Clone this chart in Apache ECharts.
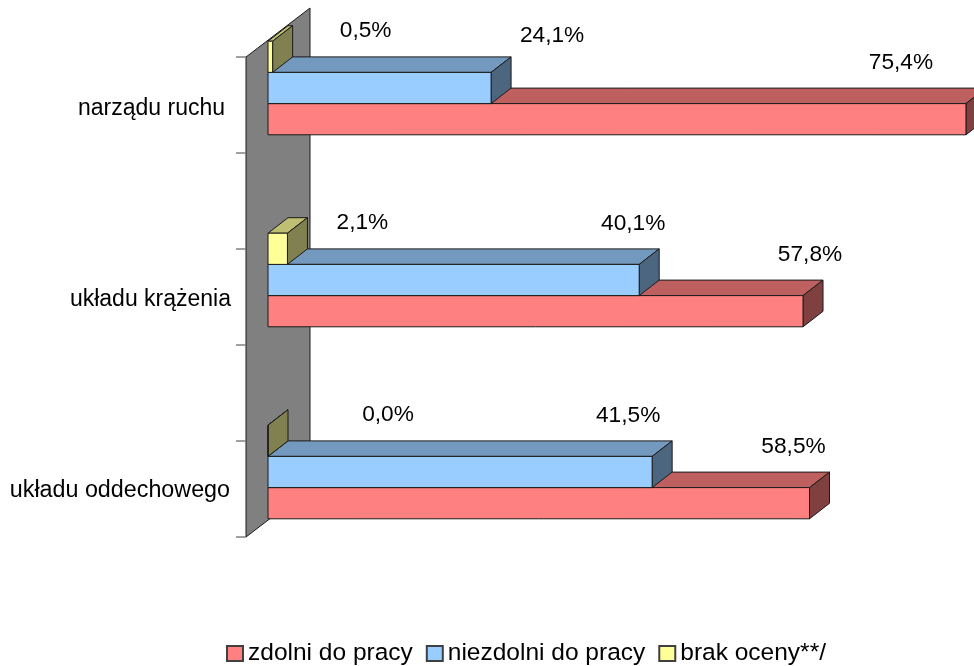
<!DOCTYPE html>
<html><head><meta charset="utf-8">
<style>html,body{margin:0;padding:0;background:#fff}#c{width:974px;height:666px}</style>
<script src="https://cdn.jsdelivr.net/npm/echarts@6/dist/echarts.min.js"></script>
</head><body><div id="c"></div>
<script>
const categories = ['narządu ruchu', 'układu krążenia', 'układu oddechowego'];
const zdolni = [75.4, 57.8, 58.5];
const niezdolni = [24.1, 40.1, 41.5];
const brakOceny = [0.5, 2.1, 0.0];
const seriesNames = ['zdolni do pracy', 'niezdolni do pracy', 'brak oceny**/'];

// layout only: label nudges from each bar's end [dx, dy]
const labelNudge = {
  0: [[-65, -41], [7, -41], [-16, -41]],
  1: [[61, -37], [-6, -41], [-24, -41]],
  2: [[93, -10], [75, -10], [120, -10]]
};
const paints = [
  { front: '#FF8080', top: '#BF6060', side: '#804040' },
  { front: '#99CCFF', top: '#7399BF', side: '#4D6680' },
  { front: '#FFFF99', top: '#BFBF73', side: '#808050' }
];
const DX = 20, DY = 15.5, LINE = '#1a1a1a';
const fontFamily = '"Liberation Sans", Arial, sans-serif';
const fmt = v => v.toFixed(1).replace('.', ',') + '%';

function barRender(slot) {
  return function (params, api) {
    const v = api.value(0), cat = api.value(1);
    const base = api.coord([0, cat]), end = api.coord([v, cat]);
    const bandH = api.size([0, 1])[1], h = bandH * 0.1625;
    const yc = base[1] + (1 - slot) * h;
    const t = yc - h / 2, b = yc + h / 2, x0 = base[0], x1 = end[0];
    const p = paints[slot], st = (f) => ({ fill: f, stroke: LINE, lineWidth: 1 });
    const nudge = labelNudge[slot][params.dataIndex];
    return {
      type: 'group',
      children: [
        { type: 'polygon', shape: { points: [[x0, t], [x0 + DX, t - DY], [x1 + DX, t - DY], [x1, t]] }, style: st(p.top) },
        { type: 'polygon', shape: { points: [[x1, t], [x1 + DX, t - DY], [x1 + DX, b - DY], [x1, b]] }, style: st(p.side) },
        { type: 'rect', shape: { x: x0, y: t, width: x1 - x0, height: b - t }, style: st(p.front) },
        { type: 'text', style: { x: x1 + nudge[0], y: t + nudge[1], text: fmt(v), fill: '#000', font: '22.7px ' + fontFamily, align: 'center', verticalAlign: 'middle' } }
      ]
    };
  };
}
function wallRender(params, api) {
  const g = params.coordSys, x0 = g.x;
  const left = x0 - 22, right = x0 + 42, top = g.y + 65, bot = top + 480;
  const kids = [{ type: 'polygon', shape: { points: [[left, top], [right, top - 49], [right, bot - 49], [left, bot]] }, style: { fill: '#808080', stroke: LINE, lineWidth: 1 } }];
  for (let i = 0; i <= 5; i++) {
    kids.push({ type: 'line', shape: { x1: left - 10, y1: top + i * 96, x2: left, y2: top + i * 96 }, style: { stroke: '#808080', lineWidth: 1.5 } });
  }
  return { type: 'group', children: kids };
}
const mk = (name, arr, slot) => ({
  type: 'custom', name, renderItem: barRender(slot), clip: false, z: 3 + slot,
  itemStyle: { color: paints[slot].front, borderColor: '#404040', borderWidth: 1.5 },
  encode: { x: 0, y: 1 }, data: arr.map((v, i) => [v, i])
});
const chart = echarts.init(document.getElementById('c'), null, { renderer: 'canvas' });
chart.setOption({
  animation: false,
  backgroundColor: '#fff',
  grid: { left: 268, top: -8, width: 703.5, height: 576, outerBoundsMode: 'none' },
  xAxis: { type: 'value', min: 0, max: 76, show: false },
  yAxis: {
    type: 'category', inverse: true, data: categories,
    axisLine: { show: false }, axisTick: { show: false },
    axisLabel: {
      margin: 37, fontSize: 23, color: '#000', fontFamily,
      formatter: (val, i) => `{l${i}|${val}}`,
      rich: {
        l0: { fontSize: 23, fontFamily, padding: [41, 6, 0, 0] },
        l1: { fontSize: 23, fontFamily, padding: [40, 0, 0, 0] },
        l2: { fontSize: 23.3, fontFamily, padding: [38, 1, 0, 0] }
      }
    }
  },
  legend: {
    data: seriesNames, top: 641, left: 226, icon: 'rect', itemWidth: 16, itemHeight: 15, itemGap: 13, padding: 0,
    textStyle: { fontSize: 24.5, color: '#000', fontFamily }
  },
  series: [
    { type: 'custom', name: 'wall', silent: true, clip: false, z: 1, renderItem: wallRender, encode: { x: 0, y: 1 }, data: [[0, 0]] },
    mk(seriesNames[0], zdolni, 0),
    mk(seriesNames[1], niezdolni, 1),
    mk(seriesNames[2], brakOceny, 2)
  ]
});
</script></body></html>
